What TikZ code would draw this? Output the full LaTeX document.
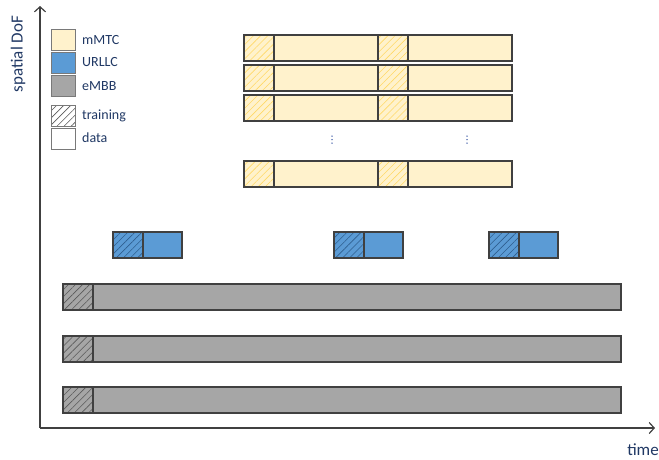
\documentclass[tikz,border=0pt]{standalone}
\usepackage{fontspec}
\setmainfont{Carlito}
\usetikzlibrary{arrows.meta,patterns.meta}
\definecolor{ink}{HTML}{203864}
\definecolor{edge}{HTML}{404040}
\definecolor{mfill}{HTML}{FFF2CC}
\definecolor{mhatch}{HTML}{FFD966}
\definecolor{ufill}{HTML}{5B9BD5}
\definecolor{uhatch}{HTML}{2F5F90}
\definecolor{efill}{HTML}{A6A6A6}
\definecolor{ehatch}{HTML}{5A5A5A}
\definecolor{dotc}{HTML}{2F4F9F}
\tikzset{
  blk/.style={draw=edge, line width=1.2pt, inner sep=0pt, outer sep=0pt, minimum height=26pt, anchor=north west},
  hatched/.style 2 args={blk, preaction={fill=#1},
    pattern={Lines[angle=45,distance=5pt,line width=0.6pt]}, pattern color=#2},
  mdata/.style={blk, fill=mfill},
  mtrain/.style={hatched={mfill}{mhatch}},
  udata/.style={blk, fill=ufill},
  utrain/.style={hatched={ufill}{uhatch}},
  edata/.style={blk, fill=efill},
  etrain/.style={hatched={efill}{ehatch}},
  legbox/.style={draw=edge!70, line width=1pt, inner sep=0pt, outer sep=0pt, minimum width=24pt, minimum height=21pt, anchor=north west},
  legtxt/.style={anchor=west, inner sep=0pt, text=ink, font=\fontsize{14}{16}\selectfont},
  axis/.style={draw=edge, line width=1.2pt, -{Straight Barb[length=5pt,width=11pt]}},
  axlabel/.style={text=ink, inner sep=0pt, font=\fontsize{17}{19}\selectfont},
  vdot/.style={fill=dotc},
}
\begin{document}
\begin{tikzpicture}[x=1pt,y=-1pt]
\useasboundingbox (0,0) rectangle (659,459);

% axes
\coordinate (origin) at (40,428);
\coordinate (ytip) at (40,6);
\coordinate (xtip) at (655,428);
\draw[axis] (origin) -- (ytip);
\draw[axis] (origin) -- (xtip);
\node[axlabel, rotate=90] (ylab) at (18,54) {spatial DoF};
\node[axlabel] (xlab) at (643,450) {time};

% legend
\node[legbox, fill=mfill] (lm) at (51,29) {};
\node[legbox, fill=ufill] (lu) at (51,52) {};
\node[legbox, fill=efill] (le) at (51,75) {};
\node[legbox, preaction={fill=white}, pattern={Lines[angle=45,distance=5pt,line width=0.6pt]}, pattern color=ehatch] (lt) at (51,105) {};
\node[legbox, fill=white] (ld) at (51,128) {};
\node[legtxt] (lmt) at (82,40) {mMTC};
\node[legtxt] (lut) at (82,62) {URLLC};
\node[legtxt] (let) at (82,86) {eMBB};
\node[legtxt] (ltt) at (82,116) {training};
\node[legtxt] (ldt) at (82,138) {data};

% mMTC rows: two training/data slots each
\foreach \r/\y in {1/35,2/65,3/95,4/161}{
  \node[mtrain, minimum width=30pt] (m\r a) at (244,\y) {};
  \node[mdata, minimum width=104pt] (m\r b) at (m\r a.north east) {};
  \node[mtrain, minimum width=30pt] (m\r c) at (m\r b.north east) {};
  \node[mdata, minimum width=104pt] (m\r d) at (m\r c.north east) {};
}
% vertical ellipses between the mMTC rows
\foreach \x in {332,467}{
  \foreach \y in {136,139.5,143}{
    \fill[vdot] (\x,\y) circle (0.75pt);
  }
}

% URLLC bursts
\foreach \k/\x in {1/113,2/334,3/489}{
  \node[utrain, minimum width=30pt] (u\k a) at (\x,232) {};
  \node[udata, minimum width=39pt] (u\k b) at (u\k a.north east) {};
}

% eMBB streams
\foreach \r/\y in {1/284,2/336,3/387}{
  \node[etrain, minimum width=30pt] (e\r a) at (63,\y) {};
  \node[edata, minimum width=528pt] (e\r b) at (e\r a.north east) {};
}
\end{tikzpicture}
\end{document}
